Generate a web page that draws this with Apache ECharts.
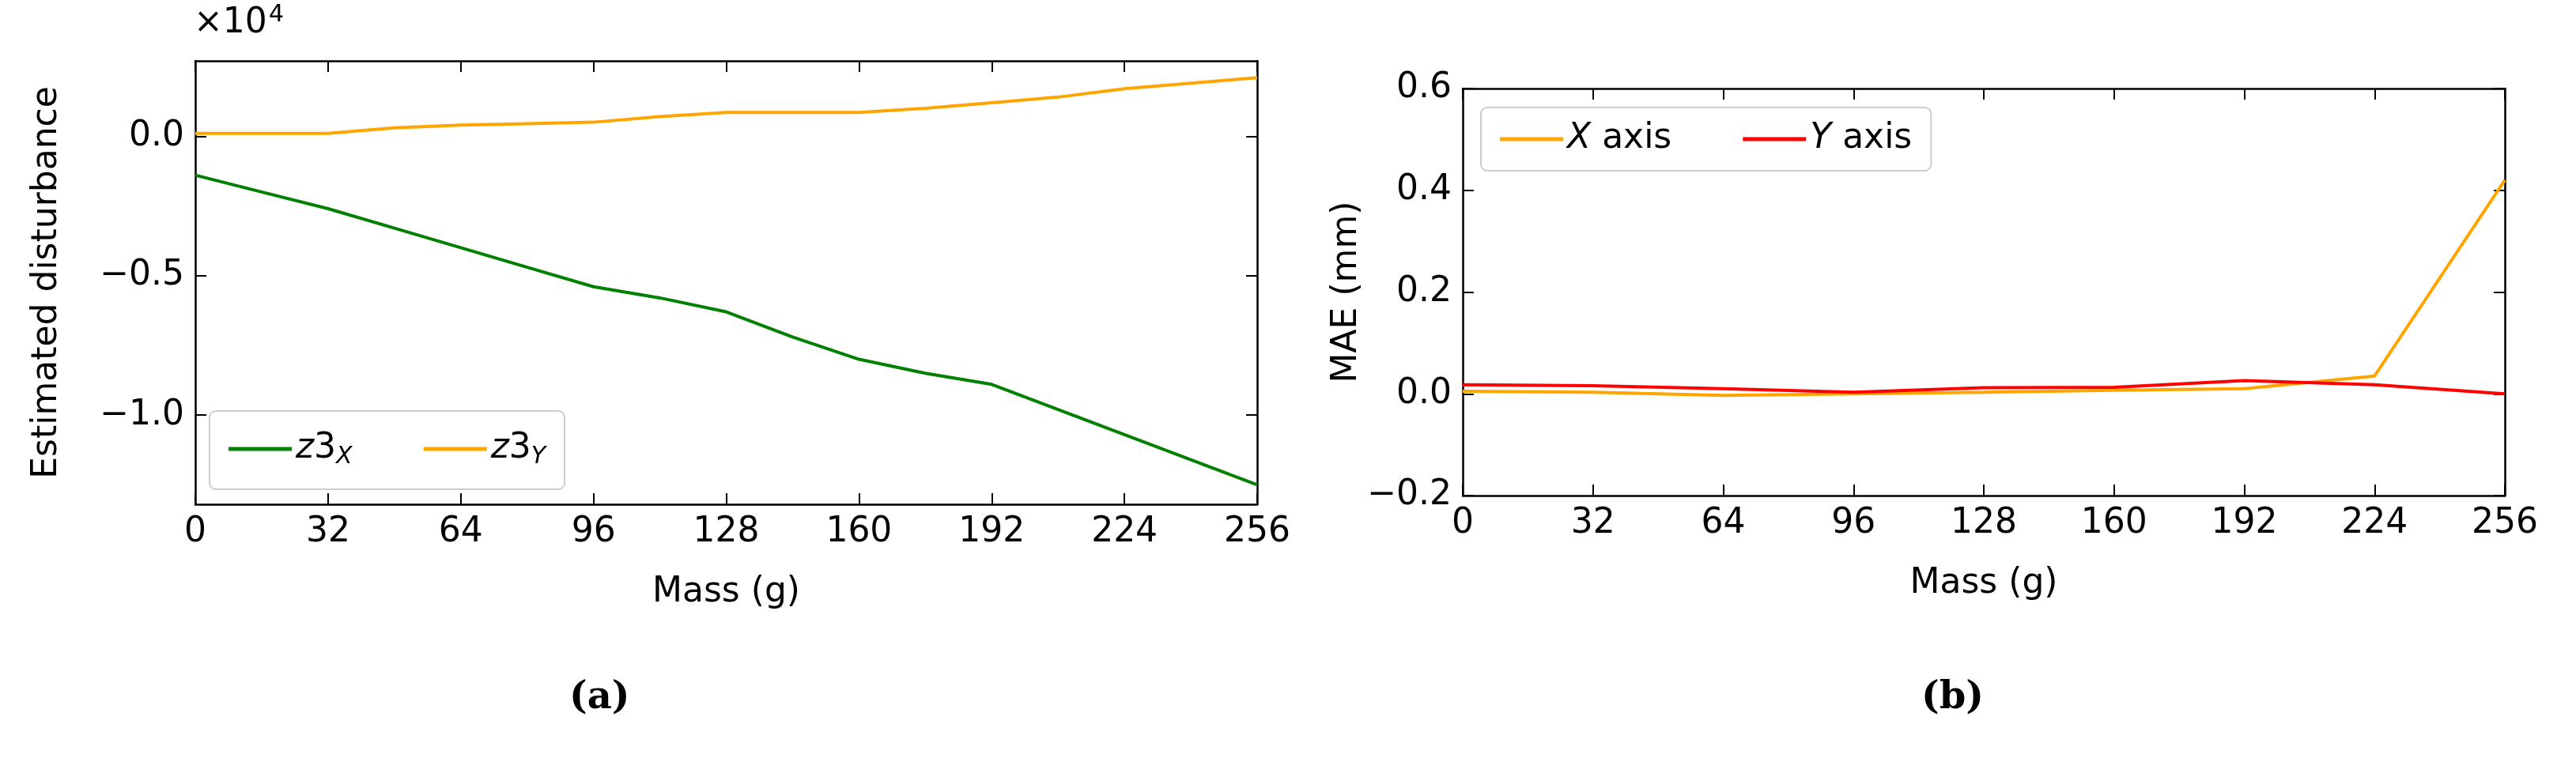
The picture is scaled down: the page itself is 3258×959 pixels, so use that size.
<!DOCTYPE html><html><head><meta charset="utf-8">
<script src="https://cdn.jsdelivr.net/npm/echarts@6/dist/echarts.min.js"></script>
<style>html,body{margin:0;background:#fff}#c{width:3258px;height:959px}</style></head><body><div id="c"></div><script>
const mass = [0,16,32,48,64,80,96,112,128,144,160,176,192,208,224,240,256];
const z3X = [-0.14,-0.20,-0.26,-0.33,-0.40,-0.47,-0.54,-0.58,-0.63,-0.72,-0.80,-0.85,-0.89,-0.98,-1.07,-1.16,-1.25];
const z3Y = [0.01,0.01,0.01,0.03,0.04,0.045,0.05,0.07,0.085,0.085,0.085,0.10,0.12,0.14,0.17,0.19,0.21];
const massB = [0,32,64,96,128,160,192,224,256];
const maeX = [0.005,0.003,-0.003,0.0,0.003,0.007,0.01,0.035,0.42];
const maeY = [0.018,0.016,0.01,0.003,0.012,0.013,0.026,0.018,0.0];
const xTicks = [0,32,64,96,128,160,192,224,256];
const yTicksA = [-1.0,-0.5,0.0];
const yTicksB = [-0.2,0.0,0.2,0.4,0.6];
const F = 'DejaVu Sans';
const FS = 44;
const fmt = v => (v<0?'\u2212':'')+Math.abs(v).toFixed(1);
const pair = (xs,ys)=>xs.map((x,i)=>[x,ys[i]]);
const line = {show:true,onZero:false,lineStyle:{color:'#000',width:2.5}};
const tick = {inside:true,length:14,lineStyle:{color:'#000',width:2}};
function xAx(g){return [
 {type:'value',gridIndex:g,min:0,max:256,interval:32,name:'Mass (g)',nameLocation:'middle',nameGap:90,nameTextStyle:{fontFamily:F,fontSize:FS,color:'#000'},
  axisLine:line,axisTick:tick,axisLabel:{fontFamily:F,fontSize:FS,color:'#000',margin:14},splitLine:{show:false}},
 {type:'value',gridIndex:g,position:'top',min:0,max:256,interval:32,axisLine:line,axisTick:tick,axisLabel:{show:false},splitLine:{show:false}}];}
function yAx(g,min,max,ticks,name,gap){const base={type:'value',gridIndex:g,min:min,max:max,splitLine:{show:false},
  axisLine:line,axisTick:Object.assign({customValues:ticks},tick)};
 return [Object.assign({},base,{name:name,nameLocation:'middle',nameGap:gap,nameTextStyle:{fontFamily:F,fontSize:FS,color:'#000'},
  axisLabel:{fontFamily:F,fontSize:FS,color:'#000',customValues:ticks,formatter:fmt,margin:14}}),
  Object.assign({},base,{position:'right',axisLabel:{show:false}})];}
const lg = {fontFamily:F,fontSize:FS,color:'#000',rich:{i:{fontFamily:F,fontStyle:'italic',fontSize:FS},s:{fontFamily:F,fontStyle:'italic',fontSize:30,verticalAlign:'bottom',padding:[20,0,0,0]},n:{fontFamily:F,fontSize:FS}}};
const opt = {animation:false,
 grid:[{left:247,right:3258-1590,top:77,bottom:959-638},{left:1850,right:3258-3168,top:112,bottom:959-627}],
 xAxis:[...xAx(0),...xAx(1)],
 yAxis:[...yAx(0,-1.32,0.27,yTicksA,'Estimated disturbance',165),...yAx(1,-0.2,0.6,yTicksB,'MAE (mm)',120)],
 legend:[{left:265,top:520,orient:'horizontal',itemWidth:80,itemHeight:5,itemGap:90,padding:[26,24],borderColor:'#ccc',borderWidth:2,borderRadius:8,
   data:['z3X','z3Y'],textStyle:lg,formatter:n=>n==='z3X'?'{i|z}{n|3}{s|X}':'{i|z}{n|3}{s|Y}',icon:'rect'},
  {left:1873,top:136,orient:'horizontal',itemWidth:80,itemHeight:5,itemGap:90,padding:[18,24],borderColor:'#ccc',borderWidth:2,borderRadius:8,
   data:['Xaxis','Yaxis'],textStyle:lg,formatter:n=>n==='Xaxis'?'{i|X} axis':'{i|Y} axis',icon:'rect'}],
 graphic:[{type:'text',left:245,top:8,style:{text:'\u00d710',fontFamily:F,fontSize:FS,fill:'#000'}},
  {type:'text',left:340,top:4,style:{text:'4',fontFamily:F,fontSize:30,fill:'#000'}},
  {type:'text',left:720,top:860,style:{text:'(a)',fontFamily:'DejaVu Serif',fontWeight:'bold',fontSize:48,fill:'#000'}},
  {type:'text',left:2430,top:860,style:{text:'(b)',fontFamily:'DejaVu Serif',fontWeight:'bold',fontSize:48,fill:'#000'}}],
 series:[
  {name:'z3X',type:'line',xAxisIndex:0,yAxisIndex:0,data:pair(mass,z3X),showSymbol:false,lineStyle:{color:'#008000',width:4},itemStyle:{color:'#008000'}},
  {name:'z3Y',type:'line',xAxisIndex:0,yAxisIndex:0,data:pair(mass,z3Y),showSymbol:false,lineStyle:{color:'#ffa500',width:4},itemStyle:{color:'#ffa500'}},
  {name:'Xaxis',type:'line',xAxisIndex:2,yAxisIndex:2,data:pair(massB,maeX),showSymbol:false,lineStyle:{color:'#ffa500',width:4},itemStyle:{color:'#ffa500'}},
  {name:'Yaxis',type:'line',xAxisIndex:2,yAxisIndex:2,data:pair(massB,maeY),showSymbol:false,lineStyle:{color:'#ff0000',width:4},itemStyle:{color:'#ff0000'}}]};
echarts.init(document.getElementById('c')).setOption(opt);
</script></body></html>
